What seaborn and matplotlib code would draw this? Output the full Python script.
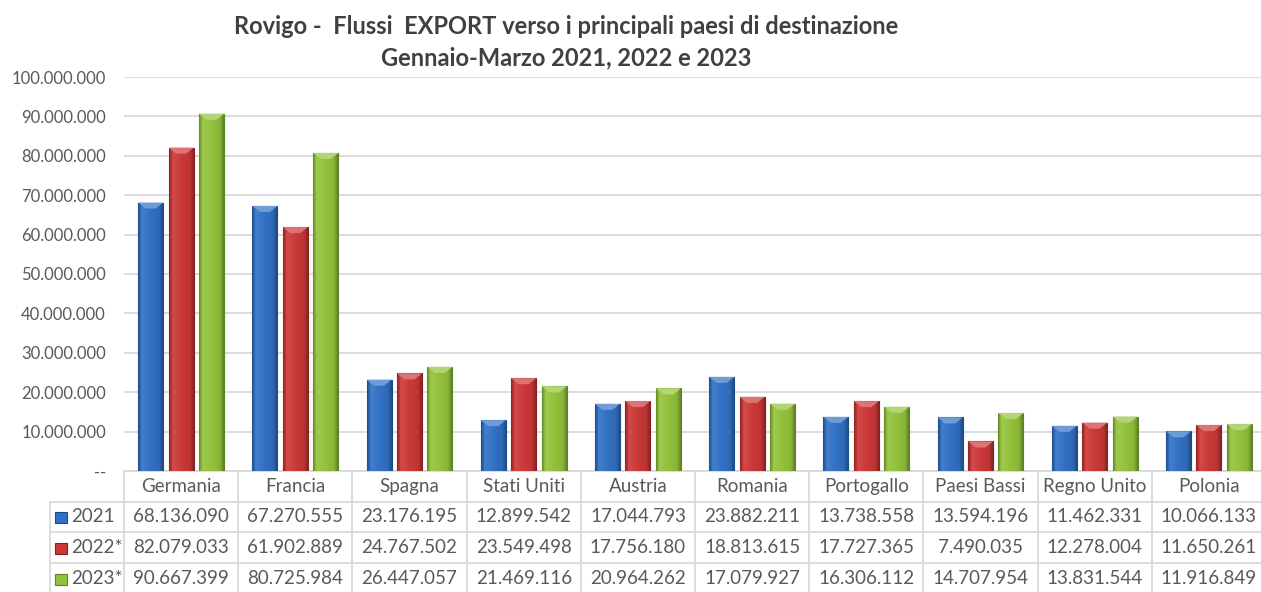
import numpy as np
import pandas as pd
import seaborn as sns
import matplotlib.pyplot as plt
import matplotlib.transforms as mtransforms
from matplotlib.colors import to_rgb
from matplotlib.patches import Rectangle, Polygon
from matplotlib.ticker import FixedLocator

countries = ['Germania', 'Francia', 'Spagna', 'Stati Uniti', 'Austria',
             'Romania', 'Portogallo', 'Paesi Bassi', 'Regno Unito', 'Polonia']
years = ['2021', '2022*', '2023*']
export_2021 = [68136090, 67270555, 23176195, 12899542, 17044793,
               23882211, 13738558, 13594196, 11462331, 10066133]
export_2022 = [82079033, 61902889, 24767502, 23549498, 17756180,
               18813615, 17727365, 7490035, 12278004, 11650261]
export_2023 = [90667399, 80725984, 26447057, 21469116, 20964262,
               17079927, 16306112, 14707954, 13831544, 11916849]
y_ticks = list(range(0, 100000001, 10000000))

COLORS = ['#3171c4', '#cc3838', '#93c23c']
EDGES = ['#1d4a8a', '#8a1e1e', '#5a8424']
GRID = '#d9d9d9'
TEXT = '#595959'
FONT = 'Lato'

W, H = 1261, 592


def fmt(v):
    return f'{v:,}'.replace(',', '.')


def shade(color, f):
    c = np.array(to_rgb(color))
    if f < 1:
        return c * f
    return c + (1 - c) * (f - 1)


def gradient_row(color, n=40):
    t = np.linspace(0, 1, n)
    f = np.interp(t, [0, 0.15, 0.5, 0.85, 1], [0.7, 1.1, 1.0, 0.93, 0.68])
    return np.array([[shade(color, v) for v in f]])


def fy(py):
    return 1 - py / H


df = pd.DataFrame({
    'paese': countries * 3,
    'anno': [y for y in years for _ in countries],
    'valore': export_2021 + export_2022 + export_2023,
})

sns.set_theme(style='white')
plt.rcParams['font.family'] = [FONT, 'DejaVu Sans']

fig = plt.figure(figsize=(W / 100, H / 100), dpi=100)
ax_left, ax_right, ax_top, ax_bottom = 124, 1266, 77, 471
ax = fig.add_axes([ax_left / W, fy(ax_bottom), (ax_right - ax_left) / W,
                   (ax_bottom - ax_top) / H])

sns.barplot(data=df, x='paese', y='valore', hue='anno', order=countries,
            hue_order=years, palette=COLORS, width=0.8, gap=0.18,
            legend=False, ax=ax, zorder=3)

# fake the glossy excel look: gradient clipped to each bar plus a light bevel on top
bevel = 6 * 100000000 / (ax_bottom - ax_top)
for container, col, ec in zip(ax.containers, COLORS, EDGES):
    grad = gradient_row(col)
    for bar in container:
        bar.set_edgecolor(ec)
        bar.set_linewidth(0.8)
        x0, w, h = bar.get_x(), bar.get_width(), bar.get_height()
        im = ax.imshow(grad, extent=[x0, x0 + w, 0, h], aspect='auto',
                       interpolation='bilinear', zorder=3.5)
        im.set_clip_path(bar)
        d = 0.3 * w
        ax.add_patch(Polygon([(x0, h), (x0 + w, h), (x0 + w - d, h - bevel),
                              (x0 + d, h - bevel)], closed=True,
                             facecolor=shade(col, 1.3), edgecolor='none',
                             zorder=3.6))

ax.set_xlim(-0.5, len(countries) - 0.5)
ax.set_ylim(0, 100000000)
ax.yaxis.set_major_locator(FixedLocator(y_ticks))
ax.set_yticklabels(['--'] + [fmt(v) for v in y_ticks[1:]])
ax.set_xticks([])
ax.set_xlabel('')
ax.set_ylabel('')
ax.tick_params(axis='y', length=0, pad=13, labelsize=12, labelcolor=TEXT)
ax.grid(axis='y', color=GRID, linewidth=1.3, zorder=0)
ax.set_axisbelow(True)
for s in ax.spines.values():
    s.set_visible(False)

# title
fig.text(566 / W, fy(26), 'Rovigo -  Flussi  EXPORT verso i principali paesi di destinazione',
         ha='center', va='center', fontsize=17, fontweight='bold', color='#404040')
fig.text(566 / W, fy(58), 'Gennaio-Marzo 2021, 2022 e 2023',
         ha='center', va='center', fontsize=17, fontweight='bold', color='#404040')

# data table under the axes: x in data units, y in figure fraction
tr = mtransforms.blended_transform_factory(ax.transData, fig.transFigure)
x_lo, x_hi = -0.5, len(countries) - 0.5
x_lab = x_lo - (ax_left - 50) / ((ax_right - ax_left) / len(countries))
row_lines = [471, 502, 532, 563, 594]
lkw = dict(color=GRID, linewidth=1.3, transform=tr, clip_on=False)

ax.plot([x_lo, x_hi], [fy(471), fy(471)], **lkw)
for py in row_lines[1:]:
    ax.plot([x_lab, x_hi], [fy(py), fy(py)], **lkw)
for i in range(len(countries) + 1):
    ax.plot([x_lo + i, x_lo + i], [fy(471), fy(594)], **lkw)
ax.plot([x_lab, x_lab], [fy(502), fy(594)], **lkw)

tkw = dict(ha='center', va='center', fontsize=13.5, color=TEXT, transform=tr)
header_y = (row_lines[0] + row_lines[1]) / 2
for i, name in enumerate(countries):
    ax.text(i, fy(header_y), name, **tkw)

for r, (year, vals, col) in enumerate(zip(years, [export_2021, export_2022, export_2023], COLORS)):
    cy = (row_lines[r + 1] + row_lines[r + 2]) / 2
    for i, v in enumerate(vals):
        ax.text(i, fy(cy), fmt(v), **tkw)
    fig.add_artist(Rectangle((55 / W, fy(cy + 6)), 12 / W, 11 / H,
                             transform=fig.transFigure, facecolor=col,
                             edgecolor=EDGES[r], linewidth=0.8))
    fig.text(71 / W, fy(cy), year, ha='left', va='center', fontsize=13.5, color=TEXT)

fig.savefig('out.png', dpi=100)
